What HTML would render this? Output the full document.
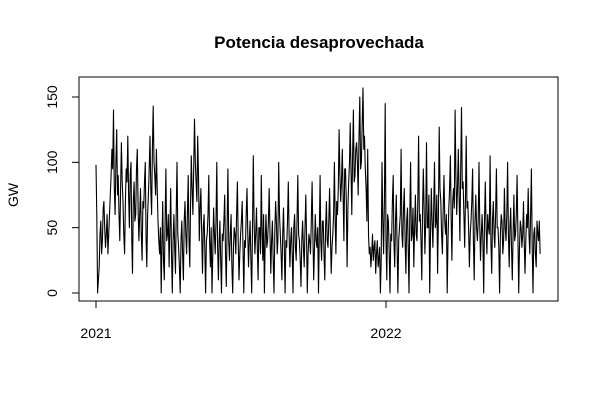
<!DOCTYPE html>
<html><head><meta charset="utf-8"><style>
body{margin:0;background:#fff}
svg{display:block;font-family:"Liberation Sans",sans-serif}
</style></head><body>
<svg id="chart" width="600" height="400">
<text x="319" y="48" text-anchor="middle" font-size="17" font-weight="bold">Potencia desaprovechada</text>
<text transform="translate(18,195) rotate(-90)" text-anchor="middle" font-size="14">GW</text>
<rect x="79" y="77" width="479" height="224" fill="none" stroke="#000"/>
<g id="yaxis"></g>
<g id="xaxis"></g>
<polyline id="series" fill="none" stroke="#000" stroke-width="1.1" stroke-linejoin="round"/>
</svg>
<script>
const yTicks=[0,50,100,150];
const xTickLabels=["2021","2022"];
const xTickDays=[0,365];
const evenDayValues=[98,0,20,55,40,70,35,60,45,75,
110,140,60,125,90,40,115,70,30,95,
120,50,100,15,85,60,110,40,80,25,
65,100,20,75,120,60,143,90,110,55,
30,0,70,10,95,45,20,80,0,60,
15,100,35,0,55,10,70,30,90,20,
105,60,133,85,120,40,80,15,60,0,
45,90,20,0,65,30,100,10,55,0,
40,75,5,95,25,60,0,50,30,85,
10,45,70,0,35,80,20,55,0,105,
30,65,10,50,90,25,0,60,40,80,
15,55,0,70,30,100,45,10,65,0,
35,85,20,50,0,60,25,90,40,5,
55,20,75,0,45,30,85,10,60,35,
0,90,25,55,10,70,35,80,15,45,
100,30,60,125,70,110,40,95,20,85,
130,60,140,90,115,75,150,100,157,120,
80,110,30,20,45,35,15,40,25,0,
100,30,145,10,55,0,40,90,20,75,
0,50,110,35,80,15,65,0,100,45,
20,75,40,120,60,10,95,30,115,50,
0,80,35,100,55,15,127,70,30,90,
45,0,65,105,25,80,140,60,110,40,
142,85,35,120,70,20,55,95,10,75,
40,100,25,60,0,85,30,50,105,15,
70,35,95,50,0,60,30,80,40,100,
20,65,10,75,45,90,0,55,35,70,
15,60,80,30,95,0,50,20,45,55];
const oddDayValues=[60,10,45,30,65,50,45,30,60,90,
95,80,100,75,60,80,85,45,70,85,
75,90,40,70,55,95,65,60,45,70,
85,40,60,95,80,110,100,75,80,40,
50,35,25,55,40,60,50,30,40,35,
60,45,20,40,30,55,45,60,40,65,
80,95,100,70,90,65,45,50,35,40,
60,40,50,30,45,55,35,40,25,45,
55,30,50,40,45,20,35,45,60,40,
30,55,35,40,60,45,40,25,50,55,
45,35,50,30,45,60,40,35,55,45,
40,25,45,55,40,60,30,45,35,40,
55,45,40,30,50,35,55,45,25,40,
35,50,45,30,40,55,45,35,40,50,
45,40,55,30,50,40,55,45,35,60,
55,70,80,90,85,75,95,70,65,100,
95,105,85,110,100,120,95,130,110,95,
55,45,35,30,25,40,30,20,35,25,
55,70,40,60,30,45,70,40,55,35,
40,60,45,65,40,55,35,60,40,65,
50,45,70,55,40,60,65,55,50,75,
45,55,65,50,75,60,80,45,65,55,
60,40,80,55,70,65,90,80,75,95,
80,60,75,65,50,45,70,40,55,50,
55,50,45,40,55,50,60,45,40,55,
45,60,50,35,45,55,40,50,60,45,
50,35,45,40,60,45,35,50,45,40,
40,50,45,60,35,45,30,55,40,30];
const NS="http://www.w3.org/2000/svg";
function xs(d){return 96+d*(290/365);}
function ys(v){return 293-v*(196/150);}
const yg=document.getElementById('yaxis');
let l=document.createElementNS(NS,'line');
l.setAttribute('x1',79);l.setAttribute('x2',79);l.setAttribute('y1',ys(yTicks[0]));l.setAttribute('y2',ys(yTicks[yTicks.length-1]));l.setAttribute('stroke','#000');


yg.appendChild(l);
yTicks.forEach(t=>{
 const tk=document.createElementNS(NS,'line');
 tk.setAttribute('x1',72);tk.setAttribute('x2',79);tk.setAttribute('y1',ys(t));tk.setAttribute('y2',ys(t));tk.setAttribute('stroke','#000');
 
 
 yg.appendChild(tk);
 const tx=document.createElementNS(NS,'text');
 tx.setAttribute('transform','translate(57,'+ys(t)+') rotate(-90)');
 tx.setAttribute('text-anchor','middle');tx.setAttribute('font-size','14');
 tx.textContent=t;
 
 
 yg.appendChild(tx);
});
const xg=document.getElementById('xaxis');
l=document.createElementNS(NS,'line');
l.setAttribute('x1',xs(xTickDays[0]));l.setAttribute('x2',xs(xTickDays[xTickDays.length-1]));l.setAttribute('y1',301);l.setAttribute('y2',301);l.setAttribute('stroke','#000');


xg.appendChild(l);
xTickDays.forEach((d,i)=>{
 const tk=document.createElementNS(NS,'line');
 tk.setAttribute('x1',xs(d));tk.setAttribute('x2',xs(d));tk.setAttribute('y1',301);tk.setAttribute('y2',308);tk.setAttribute('stroke','#000');
 
 
 xg.appendChild(tk);
 const tx=document.createElementNS(NS,'text');
 tx.setAttribute('x',xs(d));tx.setAttribute('y',338);
 tx.setAttribute('text-anchor','middle');tx.setAttribute('font-size','14');
 tx.textContent=xTickLabels[i];
 
 
 xg.appendChild(tx);
});
const pts=[];
evenDayValues.forEach((v,i)=>{
 pts.push(xs(2*i).toFixed(1)+','+ys(v).toFixed(1));
 if(i<oddDayValues.length) pts.push(xs(2*i+1).toFixed(1)+','+ys(oddDayValues[i]).toFixed(1));
});
document.getElementById('series').setAttribute('points',pts.join(' '));
</script>
</body></html>
